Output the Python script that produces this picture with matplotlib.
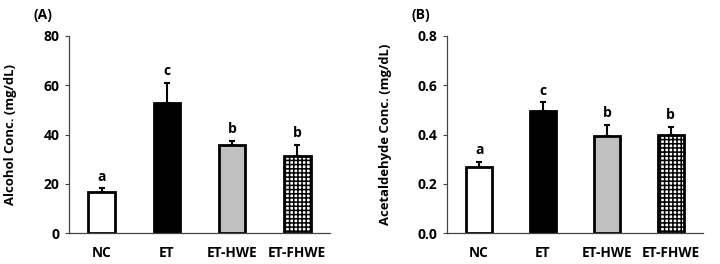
import matplotlib.pyplot as plt
import numpy as np

groups = ["NC", "ET", "ET-HWE", "ET-FHWE"]

alcohol = [16.5, 52.7, 35.7, 31.1]
alcohol_err = [1.6, 8.1, 1.5, 4.7]
alcohol_letters = ["a", "c", "b", "b"]

acetaldehyde = [0.270, 0.497, 0.394, 0.399]
acetaldehyde_err = [0.020, 0.033, 0.044, 0.033]
acetaldehyde_letters = ["a", "c", "b", "b"]

plt.rcParams['font.family'] = ['Open Sans', 'DejaVu Sans']
plt.rcParams['font.weight'] = 'bold'
plt.rcParams['hatch.linewidth'] = 1.1


def draw_panel(ax, values, errors, letters, ylim, yticks, fmt, ylabel, gap, labelx):
    x = np.arange(len(groups))
    faces = ["white", "black", "#c0c0c0", "white"]
    hatches = [None, None, None, "++++"]
    bars = ax.bar(x, values, width=0.41, color=faces, edgecolor="black",
                  linewidth=2, zorder=2)
    for bar, h in zip(bars, hatches):
        if h:
            bar.set_hatch(h)
    ax.errorbar(x, values, yerr=[np.zeros(len(values)), errors], fmt="none",
                ecolor="black", elinewidth=1.5, capsize=2.5, capthick=1.5, zorder=1)
    for xi, v, e, t in zip(x, values, errors, letters):
        ax.text(xi, v + e + gap, t, ha="center", va="bottom", fontsize=10,
                fontweight="bold")
    ax.set_xlim(-0.5, 3.5)
    ax.set_ylim(*ylim)
    ax.set_yticks(yticks)
    ax.set_yticklabels([fmt.format(t) for t in yticks])
    ax.set_xticks(x)
    ax.set_xticklabels(groups)
    ax.tick_params(axis="x", length=0, pad=9, labelsize=9.8)
    ax.tick_params(axis="y", length=3, width=0.8, pad=4, labelsize=10,
                   direction="out", color="#444444")
    for s in ["top", "right"]:
        ax.spines[s].set_visible(False)
    for s in ["left", "bottom"]:
        ax.spines[s].set_linewidth(0.9)
        ax.spines[s].set_color("#444444")
    ax.set_ylabel(ylabel, fontsize=9.4, fontweight="bold")
    ax.yaxis.set_label_coords(labelx, 0.5)


fig = plt.figure(figsize=(7.2, 2.64), dpi=100)
ax1 = fig.add_axes([0.096, 0.117, 0.362, 0.747])
ax2 = fig.add_axes([0.621, 0.117, 0.355, 0.747])

draw_panel(ax1, alcohol, alcohol_err, alcohol_letters, (0, 80),
           [0, 20, 40, 60, 80], "{:g}", "Alcohol Conc. (mg/dL)", 2.0, -0.2)
draw_panel(ax2, acetaldehyde, acetaldehyde_err, acetaldehyde_letters, (0, 0.8),
           [0.0, 0.2, 0.4, 0.6, 0.8], "{:.1f}", "Acetaldehyde Conc. (mg/dL)", 0.02, -0.215)

fig.text(0.046, 0.943, "(A)", fontsize=10, fontweight="bold", va="center")
fig.text(0.572, 0.943, "(B)", fontsize=10, fontweight="bold", va="center")

fig.savefig("out.png", dpi=100)
